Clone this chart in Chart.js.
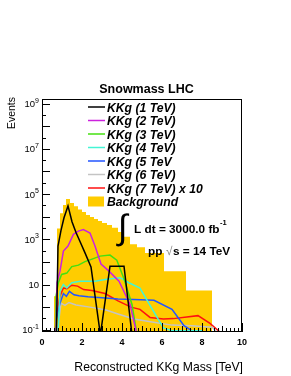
<!DOCTYPE html>
<html>
<head>
<meta charset="utf-8">
<script src="https://cdn.jsdelivr.net/npm/chart.js@4"></script>
<style>
  html, body { margin: 0; padding: 0; background: white; }
</style>
</head>
<body>
<canvas id="kkgCanvas" width="291" height="376"></canvas>
<script>
// values
const massTicks = [0, 2, 4, 6, 8, 10];
const eventExponents = [-1, 1, 3, 5, 7, 9];

// background histogram (variable bins, TeV) and its contents
const bgEdges = [0.6, 0.75, 0.9, 1.05, 1.2, 1.4, 1.6, 1.8, 2.0, 2.2, 2.4, 2.6, 2.8, 3.0, 3.25, 3.5, 3.8, 4.1, 4.4, 4.75, 5.15, 6.1, 7.2, 8.5];
const bgEvents = [3, 3000, 14000, 33000, 60000, 40000, 29000, 21000, 16000, 12000, 9600, 7800, 6400, 5200, 4300, 3200, 2100, 1300, 610, 450, 250, 39, 5.4];

// signal curves
const kkg1Mass = [0.72, 0.8, 0.95, 1.1, 1.3, 1.5, 1.7, 1.9, 2.15, 2.45, 2.92, 3.4, 4.1, 4.5];
const kkg1Events = [0.06, 500, 2500, 9000, 30000, 6000, 2000, 800, 250, 60, 0.06, 65, 65, 0.06];

const kkg2Mass = [0.7, 0.75, 0.9, 1.07, 1.3, 1.57, 1.82, 2.07, 2.4, 2.65, 2.95, 3.35, 3.85, 4.4, 4.75];
const kkg2Events = [0.06, 12, 39, 300, 500, 1650, 2300, 2700, 1900, 500, 80, 39, 14, 1.35, 0.06];

const kkg3Mass = [0.67, 0.7, 0.82, 0.98, 1.24, 1.49, 1.82, 2.15, 2.5, 2.9, 3.4, 3.74, 4.09, 4.5, 4.75];
const kkg3Events = [0.06, 3, 12, 28, 32, 62, 72, 103, 133, 180, 200, 120, 19, 1.3, 0.06];

const kkg4Mass = [0.8, 0.9, 1.07, 1.24, 1.49, 1.9, 2.65, 3.24, 3.9, 4.34, 4.9, 5.4, 6.07, 6.5, 8.0];
const kkg4Events = [0.06, 5, 10, 7, 12, 14, 14, 17, 20, 12, 7, 1.2, 0.12, 0.09, 0.09];

const kkg5Mass = [0.65, 0.72, 0.9, 1.07, 1.22, 1.37, 1.6, 1.85, 2.3, 3.0, 3.8, 4.6, 5.6, 6.5, 7.1, 7.8];
const kkg5Events = [0.06, 0.3, 1.5, 4, 3, 5, 3.5, 3.2, 2.9, 2.6, 2.3, 2.2, 2.0, 0.8, 0.15, 0.06];

const kkg6Mass = [0.7, 0.8, 0.95, 1.15, 1.35, 1.7, 2.4, 3.2, 3.8, 4.6, 5.5, 6.5, 7.5, 8.5, 8.9];
const kkg6Events = [0.06, 0.14, 1.5, 1.2, 1.6, 1.25, 1.0, 0.75, 0.5, 0.3, 0.22, 0.16, 0.15, 0.13, 0.06];

const kkg7Mass = [0.65, 0.72, 0.9, 1.07, 1.24, 1.49, 1.78, 2.08, 2.5, 3.15, 3.8, 4.45, 4.9, 5.4, 6.07, 6.57, 7.8, 8.4, 9.05];
const kkg7Events = [0.06, 0.4, 3.1, 7, 6.6, 9.3, 8.5, 6, 5.4, 4, 1.9, 1.0, 0.8, 0.35, 0.3, 0.31, 0.42, 0.19, 0.06];

const signalLabels = ['KKg (1 TeV)', 'KKg (2 TeV)', 'KKg (3 TeV)', 'KKg (4 TeV)', 'KKg (5 TeV', 'KKg (6 TeV)', 'KKg (7 TeV) x 10'];
const backgroundLabel = 'Background';

// colors
const signalColors = ['#000000', '#cc22dd', '#44e011', '#44f5d5', '#2255ff', '#c4c4c4', '#ff1111'];
const backgroundColor = '#ffcc00';

const fontFamily = "'Liberation Sans', Arial, sans-serif";

function toPoints(xs, ys) {
    return xs.map((x, i) => ({ x: x, y: ys[i] }));
}

// histogram outline for a stepped line: one point per bin at its low edge
function histogramPoints(edges, counts) {
    const pts = [{ x: edges[0], y: 0.001 }];
    counts.forEach((c, i) => pts.push({ x: edges[i], y: c }));
    pts.push({ x: edges[edges.length - 1], y: 0.001 });
    return pts;
}

const signalMass = [kkg1Mass, kkg2Mass, kkg3Mass, kkg4Mass, kkg5Mass, kkg6Mass, kkg7Mass];
const signalEvents = [kkg1Events, kkg2Events, kkg3Events, kkg4Events, kkg5Events, kkg6Events, kkg7Events];

const datasets = signalLabels.map((label, i) => ({
    label: label,
    data: toPoints(signalMass[i], signalEvents[i]),
    borderColor: signalColors[i],
    borderWidth: 1.5,
    pointRadius: 0,
    tension: 0,
    fill: false,
    order: 1
}));

datasets.push({
    label: backgroundLabel,
    data: histogramPoints(bgEdges, bgEvents),
    stepped: 'before',
    borderWidth: 0,
    borderColor: backgroundColor,
    backgroundColor: backgroundColor,
    pointRadius: 0,
    fill: 'start',
    order: 10
});

// frame, ticks and ROOT-style labels
const rootAxes = {
    id: 'rootAxes',
    afterDatasetsDraw(chart) {
        const { ctx, chartArea, scales } = chart;
        const x = scales.x, y = scales.y;
        ctx.save();
        ctx.strokeStyle = '#000';
        ctx.lineWidth = 1;
        ctx.strokeRect(chartArea.left + 0.5, chartArea.top + 0.5, chartArea.width - 1, chartArea.height - 1);

        // x ticks: every 0.2, longer at integers and labelled values
        ctx.beginPath();
        for (let i = 0; i <= 50; i++) {
            const v = i * 0.2;
            const px = Math.round(x.getPixelForValue(v)) + 0.5;
            const len = (i % 10 === 0) ? 9 : (i % 5 === 0 ? 6 : 4);
            ctx.moveTo(px, chartArea.bottom);
            ctx.lineTo(px, chartArea.bottom - len);
        }
        // y ticks: decades and half decades
        for (let e = -1; e <= 9; e += 0.5) {
            const py = Math.round(y.getPixelForValue(Math.pow(10, e))) + 0.5;
            const len = Number.isInteger(e) ? 8 : 4;
            ctx.moveTo(chartArea.left, py);
            ctx.lineTo(chartArea.left + len, py);
        }
        ctx.stroke();

        // x tick labels
        ctx.fillStyle = '#000';
        ctx.font = 'bold 9px ' + fontFamily;
        ctx.textAlign = 'center';
        ctx.textBaseline = 'alphabetic';
        massTicks.forEach(v => ctx.fillText(String(v), x.getPixelForValue(v), 345));

        // y tick labels 10^n
        eventExponents.forEach(e => {
            const py = y.getPixelForValue(Math.pow(10, e));
            const rightEdge = 39;
            ctx.textAlign = 'right';
            if (e === 1) {
                ctx.font = '9.5px ' + fontFamily;
                ctx.fillText('10', rightEdge, py + 3.5);
                return;
            }
            ctx.font = '7px ' + fontFamily;
            const sup = String(e);
            const supW = ctx.measureText(sup).width;
            ctx.fillText(sup, rightEdge, py - 1);
            ctx.font = '9.5px ' + fontFamily;
            ctx.fillText('10', rightEdge - supW, py + 3.5);
        });

        // axis titles
        ctx.font = '12.2px ' + fontFamily;
        ctx.textAlign = 'right';
        ctx.fillText('Reconstructed KKg Mass [TeV]', 243, 371);

        ctx.save();
        ctx.translate(15, 97);
        ctx.rotate(-Math.PI / 2);
        ctx.font = '10.5px ' + fontFamily;
        ctx.textAlign = 'right';
        ctx.fillText('Events', 0, 0);
        ctx.restore();

        // title
        ctx.font = 'bold 12.5px ' + fontFamily;
        ctx.textAlign = 'center';
        ctx.fillText('Snowmass LHC', 146.5, 93);
        ctx.restore();
    },
    afterDraw(chart) {
        const { ctx } = chart;
        ctx.save();
        // legend
        const rowY = [107, 120.5, 134, 147.5, 161, 174.5, 188, 201.5];
        ctx.font = 'italic bold 12.2px ' + fontFamily;
        ctx.textAlign = 'left';
        ctx.textBaseline = 'alphabetic';
        signalLabels.forEach((label, i) => {
            ctx.strokeStyle = signalColors[i];
            ctx.lineWidth = 1.5;
            ctx.beginPath();
            ctx.moveTo(88, rowY[i]);
            ctx.lineTo(105, rowY[i]);
            ctx.stroke();
            ctx.fillStyle = '#000';
            ctx.fillText(label, 107, rowY[i] + 4.5);
        });
        ctx.fillStyle = backgroundColor;
        ctx.fillRect(88, rowY[7] - 5, 16, 10);
        ctx.fillStyle = '#000';
        ctx.fillText(backgroundLabel, 107, rowY[7] + 4.5);

        // luminosity and energy
        ctx.font = '35px ' + fontFamily;
        ctx.fillText('\u222B', 118, 239);
        ctx.font = 'bold 11.8px ' + fontFamily;
        ctx.fillText('L dt = 3000.0 fb', 134, 233);
        const w = ctx.measureText('L dt = 3000.0 fb').width;
        ctx.font = 'bold 7.5px ' + fontFamily;
        ctx.fillText('-1', 134 + w + 0.5, 225);
        ctx.font = 'bold 11.8px ' + fontFamily;
        ctx.fillText('pp', 148, 255);
        ctx.fillStyle = '#888';
        ctx.font = '11.8px ' + fontFamily;
        ctx.fillText('\u221A', 166, 255);
        ctx.fillStyle = '#000';
        ctx.font = 'bold 11.8px ' + fontFamily;
        ctx.fillText('s = 14 TeV', 173, 255);
        ctx.restore();
    }
};

new Chart(document.getElementById('kkgCanvas').getContext('2d'), {
    type: 'line',
    data: { datasets: datasets },
    options: {
        responsive: false,
        animation: false,
        events: [],
        layout: { padding: { left: 42, right: 49, top: 99, bottom: 44 } },
        plugins: {
            legend: { display: false },
            title: { display: false },
            tooltip: { enabled: false }
        },
        scales: {
            x: { type: 'linear', min: 0, max: 10, display: false },
            y: { type: 'logarithmic', min: 0.0794, max: 1.6e9, display: false }
        }
    },
    plugins: [rootAxes]
});
</script>
</body>
</html>
